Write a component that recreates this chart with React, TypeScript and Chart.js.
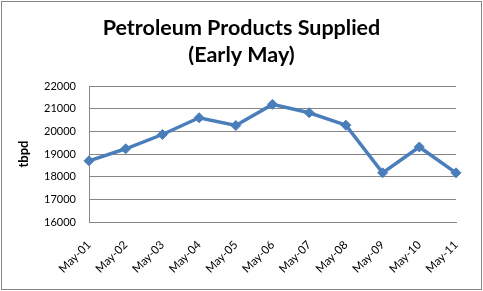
import React, { useEffect, useRef } from "react";
import { Chart, registerables } from "chart.js";

Chart.register(...registerables);

const titleLines = ["Petroleum Products Supplied", "(Early May)"];
const categories = ["May-01", "May-02", "May-03", "May-04", "May-05", "May-06", "May-07", "May-08", "May-09", "May-10", "May-11"];
const supplied = [18700, 19230, 19860, 20600, 20260, 21190, 20820, 20270, 18170, 19310, 18170];
const yAxisTitle = "tbpd";
const yMin = 16000;
const yMax = 22000;
const yStep = 1000;

const FONT = "Lato, 'Open Sans', sans-serif";

const borderPlugin = {
  id: "outerBorder",
  afterDraw(chart: any) {
    const ctx = chart.ctx;
    ctx.save();
    ctx.strokeStyle = "#868686";
    ctx.lineWidth = 1;
    ctx.strokeRect(1.5, 1.5, chart.width - 3, chart.height - 3);
    ctx.restore();
  },
};

export default function App() {
  const ref = useRef<HTMLCanvasElement | null>(null);
  useEffect(() => {
    if (!ref.current) return;
    const chart = new Chart(ref.current, {
      type: "line",
      data: {
        labels: categories,
        datasets: [
          {
            data: supplied,
            yAxisID: "y",
            borderColor: "#4A7EBB",
            backgroundColor: "#4A7EBB",
            borderWidth: 3.5,
            pointStyle: "rectRot",
            pointRadius: 5,
            pointBorderWidth: 1,
            pointBackgroundColor: "#4A7EBB",
            pointBorderColor: "#4A7EBB",
            tension: 0,
          },
        ],
      },
      options: {
        animation: false,
        responsive: false,
        layout: { padding: { left: 0, right: 0, top: 0, bottom: 0 } },
        plugins: {
          legend: { display: false },
          tooltip: { enabled: false },
          title: {
            display: true,
            text: titleLines,
            color: "#000",
            font: { family: FONT, size: 21.5, weight: "bold", lineHeight: "27px" },
            padding: { top: 15, bottom: 17 },
          },
        },
        scales: {
          x: {
            offset: false,
            grid: { display: false, drawTicks: false },
            border: { display: true, color: "#868686", width: 1 },
            ticks: {
              autoSkip: false,
              maxRotation: 45,
              minRotation: 45,
              color: "#000",
              padding: 16,
              font: { family: FONT, size: 11.5 },
            },
            afterFit(scale: any) {
              scale.height = 69;
            },
          },
          y: {
            position: "left",
            min: yMin,
            max: yMax,
            grid: { color: "#868686", lineWidth: 1, drawTicks: false },
            border: { display: true, color: "#868686", width: 1 },
            ticks: {
              stepSize: yStep,
              color: "#000",
              padding: 13,
              font: { family: FONT, size: 11 },
              callback: (v: any) => String(v),
            },
            title: {
              display: true,
              text: yAxisTitle,
              color: "#000",
              font: { family: FONT, size: 13, weight: "bold" },
              padding: { top: 16, bottom: 0 },
            },
            afterFit(scale: any) {
              scale.width = 89;
            },
          },
          yRight: {
            position: "right",
            display: true,
            min: yMin,
            max: yMax,
            grid: { display: false, drawTicks: false },
            border: { display: false },
            ticks: { display: false },
            afterFit(scale: any) {
              scale.width = 27;
            },
          },
        },
      },
      plugins: [borderPlugin],
    });
    return () => chart.destroy();
  }, []);
  return (
    <div style={{ position: "absolute", left: 0, top: 0, width: 483, height: 291, background: "#fff" }}>
      <canvas ref={ref} width={483} height={291} style={{ display: "block", width: 483, height: 291 }} />
    </div>
  );
}
